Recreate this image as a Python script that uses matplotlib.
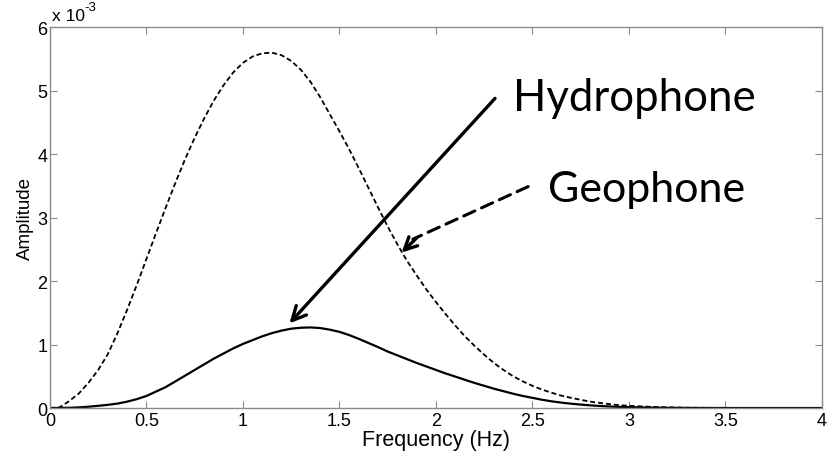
import matplotlib
matplotlib.use('Agg')
import matplotlib.pyplot as plt
from matplotlib.ticker import FuncFormatter

freq = [0.00, 0.05, 0.10, 0.15, 0.20, 0.25, 0.30, 0.35, 0.40, 0.45,
        0.50, 0.55, 0.60, 0.65, 0.70, 0.75, 0.80, 0.85, 0.90, 0.95,
        1.00, 1.05, 1.10, 1.15, 1.20, 1.25, 1.30, 1.35, 1.40, 1.45,
        1.50, 1.55, 1.60, 1.65, 1.70, 1.75, 1.80, 1.85, 1.90, 1.95,
        2.00, 2.05, 2.10, 2.15, 2.20, 2.25, 2.30, 2.35, 2.40, 2.45,
        2.50, 2.55, 2.60, 2.65, 2.70, 2.75, 2.80, 2.85, 2.90, 2.95,
        3.00, 3.10, 3.20, 3.30, 3.50, 4.00]

# amplitudes in units of 1e-3
geophone = [0.00, 0.01, 0.11, 0.23, 0.40, 0.60, 0.85, 1.18, 1.55, 1.94,
            2.35, 2.76, 3.16, 3.55, 3.92, 4.26, 4.57, 4.85, 5.09, 5.29,
            5.44, 5.54, 5.59, 5.60, 5.56, 5.47, 5.33, 5.14, 4.90, 4.63,
            4.36, 4.08, 3.78, 3.47, 3.16, 2.86, 2.58, 2.32, 2.09, 1.87,
            1.67, 1.48, 1.30, 1.13, 0.98, 0.84, 0.71, 0.60, 0.50, 0.42,
            0.35, 0.29, 0.24, 0.195, 0.16, 0.13, 0.10, 0.08, 0.06, 0.045,
            0.035, 0.02, 0.01, 0.005, 0.0, 0.0]

hydrophone = [0.00, 0.001, 0.004, 0.01, 0.02, 0.035, 0.05, 0.07, 0.10, 0.14,
              0.19, 0.26, 0.33, 0.42, 0.51, 0.60, 0.69, 0.78, 0.86, 0.94,
              1.01, 1.07, 1.13, 1.18, 1.22, 1.25, 1.265, 1.27, 1.26, 1.235,
              1.20, 1.15, 1.09, 1.025, 0.96, 0.89, 0.83, 0.77, 0.71, 0.655,
              0.60, 0.545, 0.495, 0.445, 0.395, 0.35, 0.305, 0.265, 0.225, 0.19,
              0.16, 0.13, 0.105, 0.085, 0.068, 0.054, 0.042, 0.032, 0.024, 0.018,
              0.013, 0.007, 0.003, 0.001, 0.0, 0.0]

scale = 1e-3
geo = [v * scale for v in geophone]
hyd = [v * scale for v in hydrophone]

x_ticks = [0, 0.5, 1, 1.5, 2, 2.5, 3, 3.5, 4]
y_ticks = [0, 1, 2, 3, 4, 5, 6]

plt.rcParams['font.family'] = ['Liberation Sans Narrow', 'Liberation Sans', 'DejaVu Sans']

fig = plt.figure(figsize=(8.3, 4.52), dpi=100)
ax = fig.add_axes([0.0602, 0.0951, 0.9301, 0.8423])

ax.plot(freq, geo, color='black', lw=1.3, linestyle=(0, (2.8, 1.6)))
ax.plot(freq, hyd, color='black', lw=1.6)

ax.set_xlim(0, 4)
ax.set_ylim(0, 6 * scale)
ax.set_xticks(x_ticks)
ax.set_yticks([t * scale for t in y_ticks])
ax.xaxis.set_major_formatter(FuncFormatter(lambda v, p: '%g' % v))
ax.yaxis.set_major_formatter(FuncFormatter(lambda v, p: '%g' % round(v / scale, 6)))

gray = '#8a8a8a'
for s in ax.spines.values():
    s.set_color(gray)
    s.set_linewidth(1.0)
ax.tick_params(direction='in', length=5, width=0.8, color=gray,
               top=True, right=True, labelsize=13)
ax.tick_params(axis='x', pad=3)
ax.tick_params(axis='y', pad=2)

ax.set_xlabel('Frequency (Hz)', fontsize=15.5, labelpad=0)
ax.set_ylabel('Amplitude', fontsize=13.5, labelpad=2)

ax.text(0.002, 1.01, 'x 10', transform=ax.transAxes, fontsize=12.5,
        ha='left', va='bottom')
ax.text(0.045, 1.037, '-3', transform=ax.transAxes, fontsize=9.5,
        ha='left', va='bottom')

# annotations
ax.annotate('', xy=(1.241, 1.335 * scale), xytext=(2.306, 4.88 * scale),
            arrowprops=dict(arrowstyle='->,head_length=1.0,head_width=0.5',
                            lw=2.4, color='black', shrinkA=0, shrinkB=0))
ax.text(2.40, 4.9 * scale, 'Hydrophone', fontsize=31.5, family='Lato',
        ha='left', va='center')

ax.annotate('', xy=(1.88, 2.66 * scale), xytext=(2.478, 3.49 * scale),
            arrowprops=dict(arrowstyle='-', lw=2.2, color='black',
                            linestyle=(0, (4, 2.4)), shrinkA=0, shrinkB=0))
ax.annotate('', xy=(1.822, 2.45 * scale), xytext=(1.90, 2.68 * scale),
            arrowprops=dict(arrowstyle='->,head_length=0.9,head_width=0.45',
                            lw=2.4, color='black', shrinkA=0, shrinkB=0))
ax.text(2.58, 3.45 * scale, 'Geophone', fontsize=31, family='Lato',
        ha='left', va='center')

fig.savefig('out.png', dpi=100)
